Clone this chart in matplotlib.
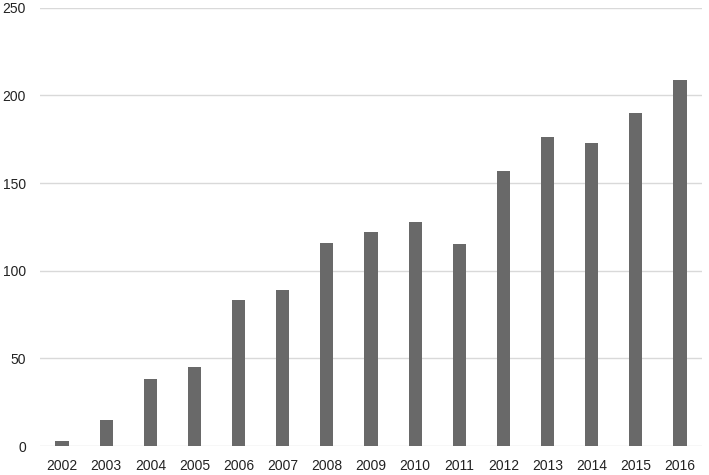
import matplotlib
matplotlib.use("Agg")
import matplotlib.pyplot as plt

years = ["2002", "2003", "2004", "2005", "2006", "2007", "2008", "2009",
         "2010", "2011", "2012", "2013", "2014", "2015", "2016"]
counts = [3, 15, 38, 45, 83, 89, 116, 122, 128, 115, 157, 176, 173, 190, 209]
yticks = [0, 50, 100, 150, 200, 250]

plt.rcParams['font.family'] = ['Liberation Sans', 'DejaVu Sans']

fig = plt.figure(figsize=(7.09, 4.75), dpi=100)
ax = fig.add_axes([40 / 709, 29 / 475, 662 / 709, 438.3 / 475])

x = range(len(years))
ax.bar(x, counts, width=0.3, color="#696969", zorder=3)

ax.set_xlim(-0.5, len(years) - 0.5)
ax.set_ylim(0, 250)
ax.set_yticks(yticks)
ax.set_xticks(list(x))
ax.set_xticklabels(years)

ax.grid(axis="y", color="#d9d9d9", linewidth=1.0, zorder=0)
ax.set_axisbelow(True)
for s in ax.spines.values():
    s.set_visible(False)
ax.tick_params(axis="both", length=0, labelsize=10, colors="#222222")
ax.tick_params(axis="y", pad=10)
ax.tick_params(axis="x", pad=9)

fig.savefig("out.png", dpi=100)
